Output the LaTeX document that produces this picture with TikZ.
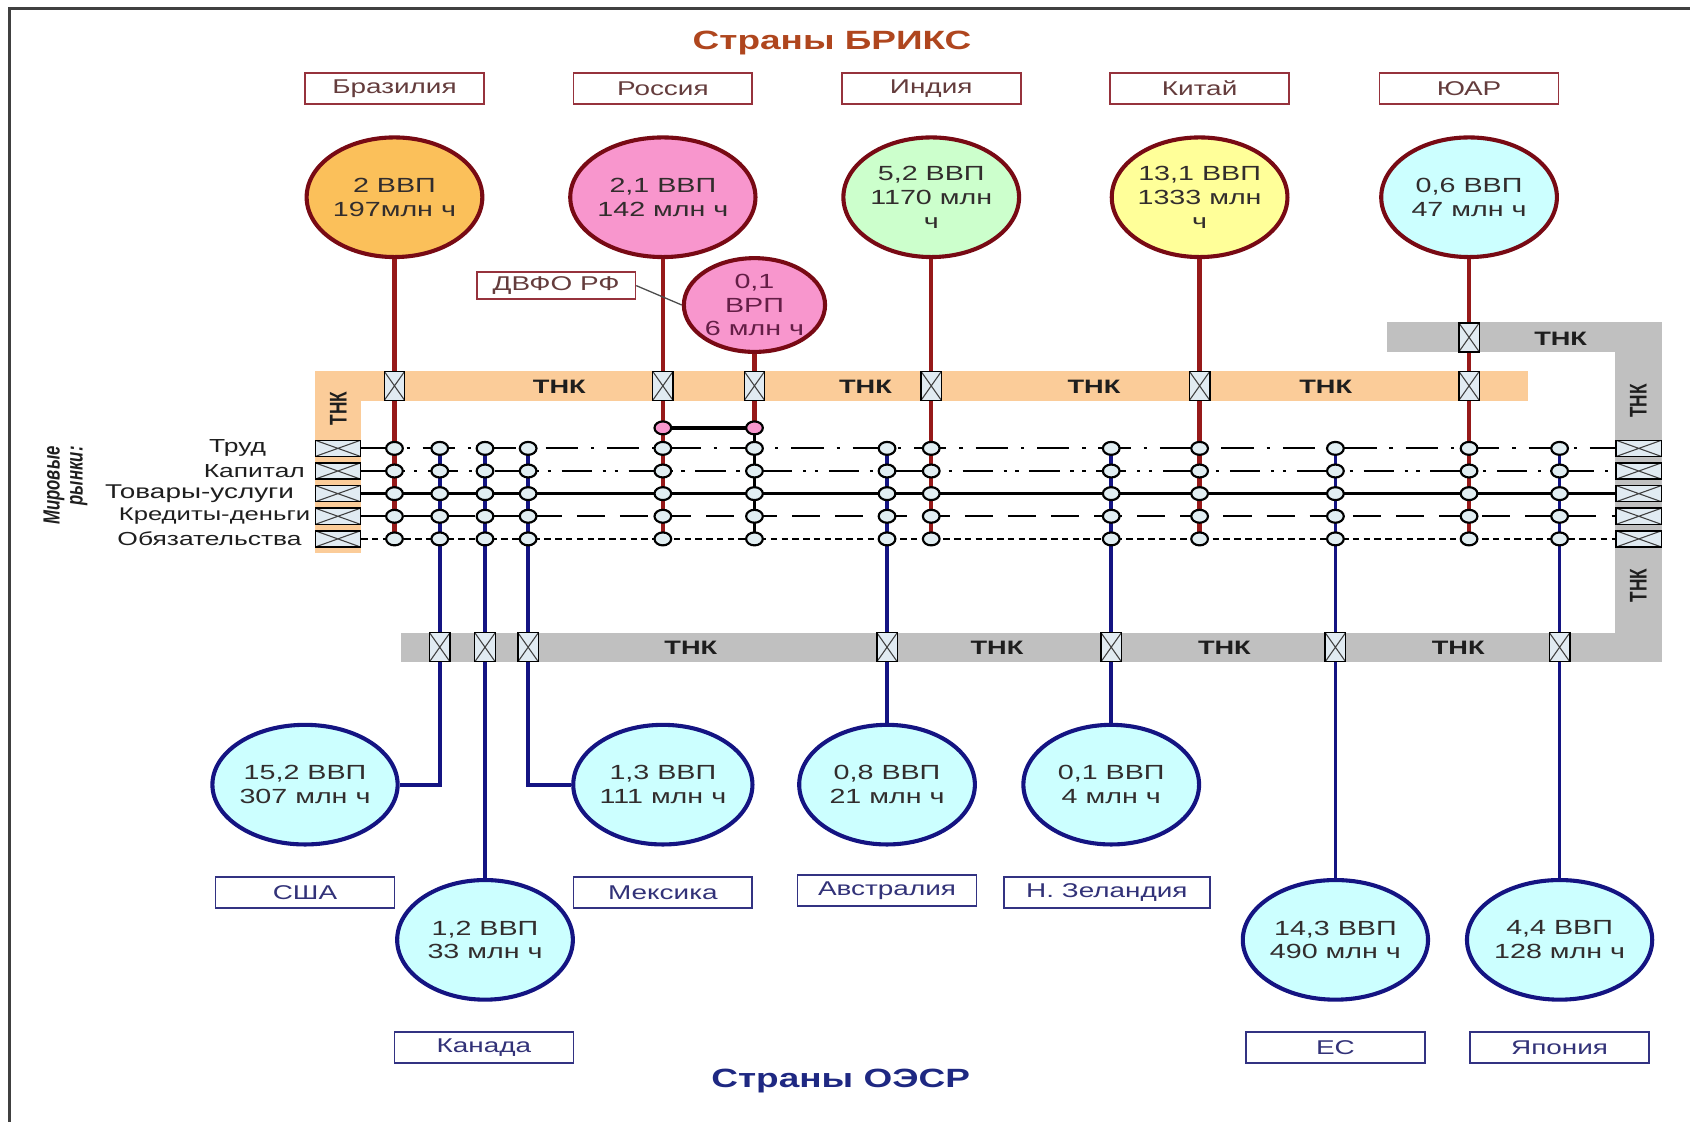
\documentclass[tikz,border=0pt]{standalone}
\usepackage{fontspec}
\setmainfont{Liberation Sans}[FakeStretch=1.4]
\newfontfamily\plainsans{Liberation Sans}
\usetikzlibrary{shapes.geometric}
\definecolor{orangeband}{RGB}{251,204,153}
\definecolor{grayband}{RGB}{192,192,192}
\definecolor{bricsline}{RGB}{150,25,25}
\definecolor{topborder}{RGB}{120,10,20}
\definecolor{navy}{RGB}{20,20,130}
\definecolor{cyanfill}{RGB}{204,255,255}
\definecolor{brafill}{RGB}{251,192,90}
\definecolor{pinkfill}{RGB}{248,150,205}
\definecolor{greenfill}{RGB}{204,255,204}
\definecolor{yelfill}{RGB}{255,255,153}
\definecolor{xfill}{RGB}{225,235,242}
\definecolor{dotfill}{RGB}{225,238,242}
\definecolor{bricstitle}{RGB}{175,70,30}
\definecolor{oecdtitle}{RGB}{30,40,130}
\definecolor{circtext}{RGB}{50,45,45}
\definecolor{dvfotext}{RGB}{100,30,70}
\definecolor{toplabborder}{RGB}{150,50,60}
\definecolor{toplabtext}{RGB}{100,60,60}
\definecolor{botlabtext}{RGB}{50,50,120}
\definecolor{botlabborder}{RGB}{50,50,130}
\definecolor{thktext}{RGB}{30,30,30}
\definecolor{mlabtext}{RGB}{30,30,30}
\definecolor{framec}{RGB}{64,64,64}
\pgfdeclarelayer{bands}
\pgfdeclarelayer{lines}
\pgfsetlayers{bands,lines,main}
\begin{document}
\begin{tikzpicture}[x=1pt,y=-1pt,
  bigc/.style={ellipse, line width=3.8pt, minimum width=163pt, minimum height=111pt, inner sep=0pt, align=center, font=\fontsize{19}{22}\selectfont, text=circtext},
  topc/.style={bigc, draw=topborder},
  botc/.style={bigc, draw=navy, fill=cyanfill},
  lab/.style={draw, line width=1.6pt, minimum width=166pt, minimum height=29pt, inner sep=0pt, font=\fontsize{18.5}{20}\selectfont},
  toplab/.style={lab, draw=toplabborder, text=toplabtext},
  botlab/.style={lab, draw=botlabborder, text=botlabtext},
  xbox/.style={draw=black, line width=1.3pt, fill=xfill, minimum width=19pt, minimum height=27pt, inner sep=0pt,
    path picture={\draw[line width=1pt, black!75] (path picture bounding box.south west) -- (path picture bounding box.north east) (path picture bounding box.north west) -- (path picture bounding box.south east);}},
  mbox/.style={xbox, minimum width=42pt, minimum height=15pt},
  dot/.style={ellipse, draw=black, line width=2pt, fill=dotfill, minimum width=15.5pt, minimum height=12pt, inner sep=0pt},
  pdot/.style={dot, fill=pinkfill},
  thk/.style={font=\fontsize{18}{18}\selectfont\bfseries, text=thktext},
  rthk/.style={rotate=90, font=\plainsans\fontsize{16}{16}\selectfont\bfseries, text=thktext},
  mlab/.style={anchor=east, font=\fontsize{17.5}{18}\selectfont, text=mlabtext, inner sep=0pt},
  redln/.style={draw=bricsline, line width=4pt},
  blueln/.style={draw=navy, line width=3.5pt},
  blkln/.style={draw=black, line width=3pt},
  mk1/.style={line width=2pt, dash pattern=on 30pt off 12pt on 3pt off 12pt},
  mk2/.style={line width=2pt, dash pattern=on 28pt off 10pt on 3pt off 8pt on 3pt off 10pt},
  mk3/.style={line width=3pt},
  mk4/.style={line width=2pt, dash pattern=on 26pt off 14pt},
  mk5/.style={line width=1.6pt, dash pattern=on 6pt off 4pt}
]
\useasboundingbox (0,0) rectangle (1568,1041);
\draw[framec, line width=2.5pt] (1568,8) -- (9,8) -- (9,1041);

% bands
\begin{pgfonlayer}{bands}
\fill[orangeband] (292,344) rectangle (1418,372);
\fill[orangeband] (292,344) rectangle (335,513);
\fill[grayband] (1287,299) rectangle (1542,327);
\fill[grayband] (1498,299) rectangle (1542,614);
\fill[grayband] (372,587) rectangle (1542,614);
\end{pgfonlayer}

% titles
\node[font=\fontsize{24.5}{24}\selectfont\bfseries, text=bricstitle] (t1) at (772,40) {Страны БРИКС};
\node[font=\fontsize{24.5}{24}\selectfont\bfseries, text=oecdtitle] (t2) at (780,1003) {Страны ОЭСР};

% top labels
\node[toplab] (lbra) at (366,82) {Бразилия};
\node[toplab] (lrus) at (615,82) {Россия};
\node[toplab] (lind) at (864,82) {Индия};
\node[toplab] (lchn) at (1113,82) {Китай};
\node[toplab] (lsar) at (1363,82) {ЮАР};

% top circles
\node[topc, fill=brafill] (bra) at (366,183) {2 ВВП\\197млн ч};
\node[topc, fill=pinkfill] (rus) at (615,183) {2,1 ВВП\\142 млн ч};
\node[topc, fill=greenfill] (ind) at (864,183) {5,2 ВВП\\1170 млн\\ч};
\node[topc, fill=yelfill] (chn) at (1113,183) {13,1 ВВП\\1333 млн\\ч};
\node[topc, fill=cyanfill] (sar) at (1363,183) {0,6 ВВП\\47 млн ч};
\node[topc, fill=pinkfill, minimum width=131pt, minimum height=87pt, text=dvfotext] (dvf) at (700,283) {0,1\\ВРП\\6 млн ч};
\node[toplab, minimum width=147pt, minimum height=25pt] (dvfbox) at (516,265) {ДВФО РФ};

% bottom circles
\node[botc] (usa) at (283,728) {15,2 ВВП\\307 млн ч};
\node[botc] (can) at (450,872) {1,2 ВВП\\33 млн ч};
\node[botc] (mex) at (615,728) {1,3 ВВП\\111 млн ч};
\node[botc] (aus) at (823,728) {0,8 ВВП\\21 млн ч};
\node[botc] (nz)  at (1031,728) {0,1 ВВП\\4 млн ч};
\node[botc] (eu)  at (1239,872) {14,3 ВВП\\490 млн ч};
\node[botc] (jpn) at (1447,872) {4,4 ВВП\\128 млн ч};

% bottom labels
\node[botlab] (lusa) at (283,828) {США};
\node[botlab] (lmex) at (615,828) {Мексика};
\node[botlab] (laus) at (823,826) {Австралия};
\node[botlab, minimum width=191pt] (lnz) at (1027,828) {Н. Зеландия};
\node[botlab] (lcan) at (449,972) {Канада};
\node[botlab] (leu) at (1239,972) {ЕС};
\node[botlab] (ljpn) at (1447,972) {Япония};

% THK labels
\node[thk] (o1) at (519,359) {ТНК};
\node[thk] (o2) at (803,359) {ТНК};
\node[thk] (o3) at (1015,359) {ТНК};
\node[thk] (o4) at (1230,359) {ТНК};
\node[thk] (g0) at (1448,314) {ТНК};
\node[thk] (g1) at (641,601) {ТНК};
\node[thk] (g2) at (925,601) {ТНК};
\node[thk] (g3) at (1136,601) {ТНК};
\node[thk] (g4) at (1353,601) {ТНК};
\node[rthk] (ov) at (314,379) {\scalebox{1}[1.4]{ТНК}};
\node[rthk] (gv1) at (1520,372) {\scalebox{1}[1.4]{ТНК}};
\node[rthk] (gv2) at (1520,543) {\scalebox{1}[1.4]{ТНК}};

% world markets caption
\node[rotate=90, anchor=east, inner sep=0pt, font=\plainsans\fontsize{15.5}{16}\selectfont\bfseries\itshape, text=mlabtext] (wm1) at (50,414) {\scalebox{1}[1.4]{Мировые}};
\node[rotate=90, anchor=east, inner sep=0pt, font=\plainsans\fontsize{15.5}{16}\selectfont\bfseries\itshape, text=mlabtext] (wm2) at (73,414) {\scalebox{1}[1.4]{рынки:}};

% market labels
\node[mlab] (ml1) at (247,416) {Труд};
\node[mlab] (ml2) at (283,437) {Капитал};
\node[mlab, font=\fontsize{18.5}{18}\selectfont] (ml3) at (273,458) {Товары-услуги};
\node[mlab, font=\fontsize{17}{18}\selectfont] (ml4) at (288,479) {Кредиты-деньги};
\node[mlab] (ml5) at (280,500) {Обязательства};

% market boxes
\foreach \r/\y in {1/416,2/437,3/458,4/479,5/500}{
  \node[mbox] (L\r) at (313.5,\y) {};
  \node[mbox] (R\r) at (1520.5,\y) {};
}

% cross boxes on bands
\foreach \i/\x in {1/366,2/615,3/700,4/864,5/1113,6/1363}
  \node[xbox] (xo\i) at (\x,358) {};
\node[xbox] (xg0) at (1363,313) {};
\foreach \i/\x in {1/408,2/450,3/490,4/823,5/1031,6/1239,7/1447}
  \node[xbox] (xg\i) at (\x,600.5) {};

% junction dots
\foreach \c/\x in {1/366,2/408,3/450,4/490,5/615,6/700,7/823,8/864,9/1031,10/1113,11/1239,12/1363,13/1447}
  \foreach \r/\y in {1/416,2/437,3/458,4/479,5/500}
    \node[dot] (n-\c-\r) at (\x,\y) {};
\node[pdot] (pk1) at (615,397) {};
\node[pdot] (pk2) at (700,397) {};

% connectors
\begin{pgfonlayer}{lines}
\draw[mk1] (L1.east) -- (R1.west);
\draw[mk2] (L2.east) -- (R2.west);
\draw[mk3] (L3.east) -- (R3.west);
\draw[mk4] (L4.east) -- (R4.west);
\draw[mk5] (L5.east) -- (R5.west);
\draw[redln] (bra.south) -- (n-1-5.center);
\draw[redln] (rus.south) -- (n-5-5.center);
\draw[redln] (dvf.south) -- (pk2.center);
\draw[blkln] (pk2.center) -- (n-6-5.center);
\draw[blkln] (pk1.center) -- (pk2.center);
\draw[redln] (ind.south) -- (n-8-5.center);
\draw[redln] (chn.south) -- (n-10-5.center);
\draw[redln] (sar.south) -- (n-12-5.center);
\draw[blueln] (n-2-1.center) |- (usa.east);
\draw[blueln] (n-3-1.center) -- (can.north);
\draw[blueln] (n-4-1.center) |- (mex.west);
\draw[blueln] (n-7-1.center) -- (aus.north);
\draw[blueln] (n-9-1.center) -- (nz.north);
\draw[blueln] (n-11-1.center) -- (eu.north);
\draw[blueln] (n-13-1.center) -- (jpn.north);
\draw[line width=1.2pt, black!70] (dvfbox.east) -- (dvf.west);
\end{pgfonlayer}
\end{tikzpicture}
\end{document}
